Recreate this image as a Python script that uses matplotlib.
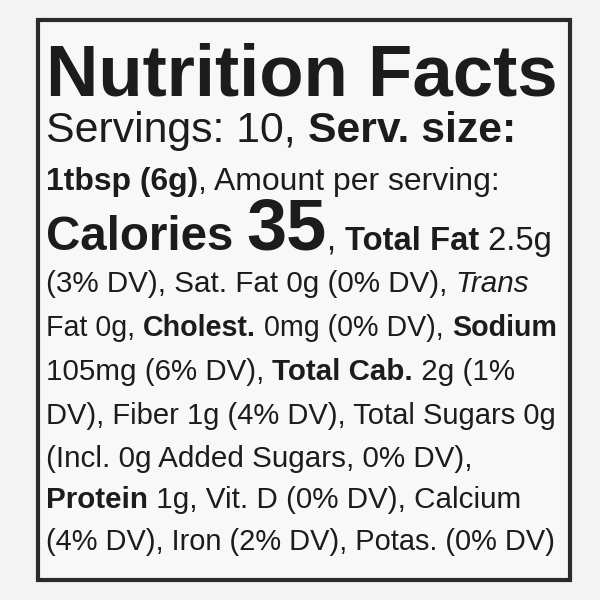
import matplotlib
matplotlib.use("Agg")
import matplotlib.pyplot as plt
from matplotlib.patches import Rectangle

# (text, weight, style, relative size)
lines = [
    [("Nutrition Facts", "heavy", "normal", 1.0)],
    [("Servings: 10, ", "normal", "normal", 1.0), ("Serv. size:", "bold", "normal", 1.0)],
    [("1tbsp (6g)", "bold", "normal", 1.0), (", Amount per serving:", "normal", "normal", 1.0)],
    [("Calories ", "bold", "normal", 1.45), ("35", "bold", "normal", 2.2), (", ", "normal", "normal", 1.0),
     ("Total Fat", "bold", "normal", 1.0), (" 2.5g", "normal", "normal", 1.0)],
    [("(3% DV), Sat. Fat 0g (0% DV), ", "normal", "normal", 1.0), ("Trans", "normal", "italic", 1.0)],
    [("Fat 0g, ", "normal", "normal", 1.0), ("Cholest.", "bold", "normal", 1.0),
     (" 0mg (0% DV), ", "normal", "normal", 1.0), ("Sodium", "bold", "normal", 1.0)],
    [("105mg (6% DV), ", "normal", "normal", 1.0), ("Total Cab.", "bold", "normal", 1.0),
     (" 2g (1%", "normal", "normal", 1.0)],
    [("DV), Fiber 1g (4% DV), Total Sugars 0g", "normal", "normal", 1.0)],
    [("(Incl. 0g Added Sugars, 0% DV),", "normal", "normal", 1.0)],
    [("Protein", "bold", "normal", 1.0), (" 1g, Vit. D (0% DV), Calcium", "normal", "normal", 1.0)],
    [("(4% DV), Iron (2% DV), Potas. (0% DV)", "normal", "normal", 1.0)],
]
right_edges = [557, 515, 498, 552, 530, 556, 515, 555, 472, 522, 556]
baselines = [95, 142, 190, 250, 292, 336, 380, 424, 467, 508, 550]

fig = plt.figure(figsize=(6, 6), dpi=100)
fig.patch.set_facecolor("#f3f3f3")
ax = fig.add_axes([0, 0, 1, 1])
ax.set_xlim(0, 600); ax.set_ylim(600, 0); ax.axis("off")
ax.add_patch(Rectangle((38, 20), 532, 560, facecolor="#f8f8f8", edgecolor="#2a2a2a", lw=3))
r = fig.canvas.get_renderer()
font = "Liberation Sans"
col = "#1c1c1c"
left = 46
for runs, rt, by in zip(lines, right_edges, baselines):
    base = 20
    # measure
    def draw(size, measure_only):
        x = left
        arts = []
        for txt, w, st, rel in runs:
            t = ax.text(x, by, txt, fontsize=size * rel, fontweight=w, fontstyle=st,
                        family=font, color=col, va="baseline", ha="left")
            bb = t.get_window_extent(r)
            x += bb.width
            arts.append(t)
        if measure_only:
            for a in arts:
                a.remove()
        return x - left
    wdt = draw(base, True)
    size = base * (rt - left) / wdt
    draw(size, False)

fig.savefig("out.png", dpi=100, facecolor=fig.get_facecolor())
